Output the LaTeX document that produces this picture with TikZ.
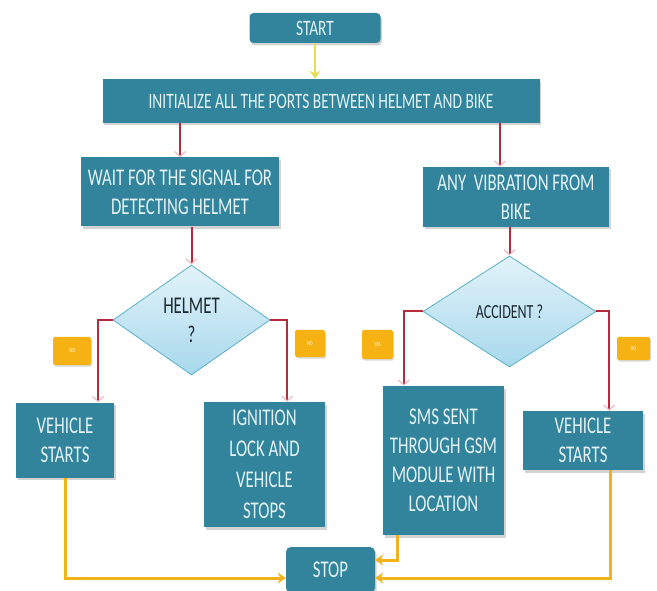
\documentclass[tikz,border=0pt]{standalone}
\usepackage{fontspec}
\setmainfont[FakeStretch=0.70]{Carlito}
\usetikzlibrary{shapes.geometric,arrows.meta,shadows}

\definecolor{boxteal}{HTML}{31849B}
\definecolor{boxtext}{HTML}{E4F2F6}
\definecolor{dialine}{HTML}{5AAFC9}
\definecolor{diatop}{HTML}{E2F3FA}
\definecolor{diabot}{HTML}{A8D8EC}
\definecolor{diatext}{HTML}{1E2A30}
\definecolor{flowred}{HTML}{B62B3C}
\definecolor{tipred}{HTML}{F0B8C0}
\definecolor{flowgold}{HTML}{F2B31A}
\definecolor{flowlime}{HTML}{E3DE55}
\definecolor{tagfill}{HTML}{F6B212}

\tikzset{
  stepbox/.style={rectangle, fill=boxteal, text=boxtext, align=center,
    inner sep=2pt, font=\fontsize{24}{29}\selectfont,
    drop shadow={shadow xshift=1.5pt, shadow yshift=-2.5pt, opacity=0.35}},
  askbox/.style={diamond, draw=dialine, line width=0.8pt, top color=diatop,
    bottom color=diabot, text=diatext, align=center, inner sep=0pt,
    font=\fontsize{24}{29}\selectfont},
  tag/.style={rectangle, rounded corners=2pt, fill=tagfill, text=white,
    inner sep=1pt, font=\fontsize{6}{7}\selectfont,
    drop shadow={shadow xshift=1pt, shadow yshift=-1.5pt, opacity=0.3}},
  redflow/.style={draw=flowred, line width=2pt,
    -{Straight Barb[length=5pt, width=11pt, line width=1.2pt, color=tipred]}},
  goldflow/.style={draw=flowgold, line width=3pt,
    -{Stealth[length=8pt, width=11pt]}},
  hv/.style={to path={-| (\tikztotarget)}},
  vh/.style={to path={|- (\tikztotarget)}},
}

\begin{document}
\begin{tikzpicture}[x=1pt,y=-1pt]

      \useasboundingbox (0,0) rectangle (657,591);

      \begin{scope}[every node/.style={stepbox}]
        \node (1)  at (315,28) [minimum width=131pt, minimum height=30pt, rounded corners=4pt, font=\fontsize{22}{26}\selectfont] {START};
        \node (2)  at (321,101) [minimum width=437pt, minimum height=44pt, font=\fontsize{22}{26}\selectfont] {INITIALIZE ALL THE PORTS BETWEEN HELMET AND BIKE};
        \node (3)  at (180,192) [minimum width=198pt, minimum height=69pt] {WAIT FOR THE SIGNAL FOR\\DETECTING HELMET};
        \node (4)  at (516,197) [minimum width=186pt, minimum height=60pt] {ANY\ \ VIBRATION FROM\\BIKE};
        \node (7)  at (65,440) [minimum width=98pt, minimum height=75pt] {VEHICLE\\STARTS};
        \node (8)  at (264.5,464.5) [minimum width=121pt, minimum height=125pt, font=\fontsize{24}{31}\selectfont] {IGNITION\\LOCK AND\\VEHICLE\\STOPS};
        \node (9)  at (443.5,460.5) [minimum width=121pt, minimum height=149pt] {SMS SENT\\THROUGH GSM\\MODULE WITH\\LOCATION};
        \node (10) at (583,440.5) [minimum width=120pt, minimum height=59pt] {VEHICLE\\STARTS};
        \node (11) at (330.5,570) [minimum width=89pt, minimum height=46pt, rounded corners=5pt] {STOP};
      \end{scope}

      \begin{scope}[every node/.style={askbox}]
        \node (5) at (191.5,320) [minimum width=157pt, minimum height=110pt] {HELMET\\?};
        \node (6) at (509.5,311.5) [minimum width=173pt, minimum height=111pt, font=\fontsize{20}{24}\selectfont] {ACCIDENT ?};
      \end{scope}

      \begin{scope}[every node/.style={tag}]
        \node (12) at (72,351)     [minimum width=38pt, minimum height=28pt] {YES};
        \node (13) at (310,343.5)  [minimum width=30pt, minimum height=27pt] {NO};
        \node (14) at (377.5,344.5)[minimum width=31pt, minimum height=29pt] {YES};
        \node (15) at (633.5,348.5)[minimum width=33pt, minimum height=23pt] {NO};
      \end{scope}

      \coordinate (4a)  at ([xshift=-16pt]4.north);
      \coordinate (7a)  at ([xshift=-16pt]7.north east);
      \coordinate (8a)  at ([xshift=-38pt]8.north east);
      \coordinate (9a)  at ([xshift=21pt]9.north west);
      \coordinate (10a) at ([xshift=-34pt]10.north east);
      \coordinate (9b)  at ([xshift=15pt]9.south west);
      \coordinate (10b) at ([xshift=27pt]10.south);
      \coordinate (11a) at ([yshift=-8pt]11.west);
      \coordinate (11b) at ([yshift=-8pt]11.east);
      \coordinate (11c) at ([yshift=10pt]11.east);

      \begin{scope}[every edge/.style={redflow}]
        \path (3.north |- 2.south) edge (3.north);
        \path (4a |- 2.south) edge (4a);
        \path (5.north |- 3.south) edge (5.north);
        \path (6.north |- 4.south) edge (6.north);
        \path (5.west) edge[hv] (7a);
        \path (5.east) edge[hv] (8a);
        \path (6.west) edge[hv] (9a);
        \path (6.east) edge[hv] (10a);
      \end{scope}

      \begin{scope}[every edge/.style={goldflow}]
        \path (1.south) edge[draw=flowlime, line width=2pt] (1.south |- 2.north);
        \path (7.south) edge[vh] (11a);
        \path (10b) edge[vh] (11b);
        \path (9b) edge[vh] (11c);
      \end{scope}

    \end{tikzpicture}
\end{document}
